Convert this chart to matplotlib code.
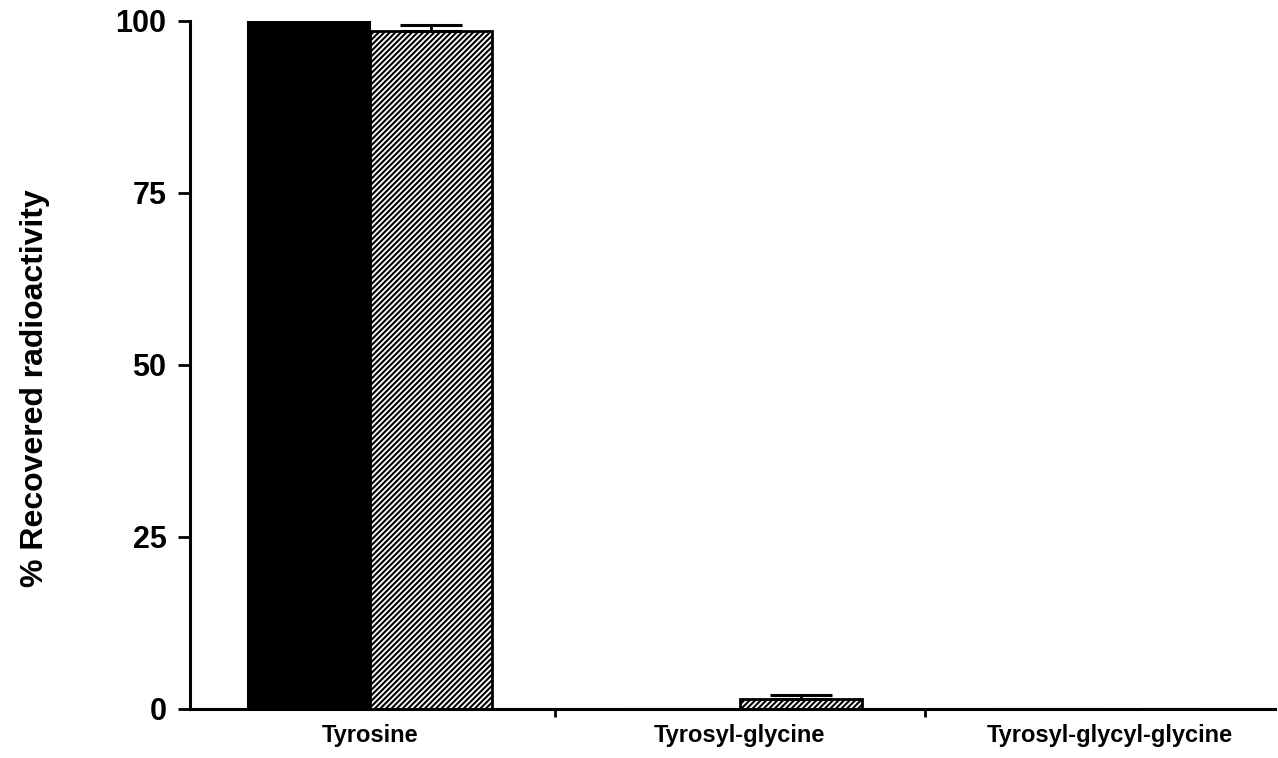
import matplotlib
matplotlib.use('Agg')
import matplotlib.pyplot as plt
import numpy as np

# data
categories = ['Tyrosine', 'Tyrosyl-glycine', 'Tyrosyl-glycyl-glycine']
solid_vals = [100.0, 0.0, 0.0]
hatched_vals = [98.5, 1.4, 0.0]
hatched_err = [0.9, 0.7, 0.0]
y_ticks = [0, 25, 50, 75, 100]

plt.rcParams['font.family'] = ['Liberation Sans', 'DejaVu Sans']
plt.rcParams['font.weight'] = 'bold'
plt.rcParams['hatch.linewidth'] = 1.5

fig = plt.figure(figsize=(12.78, 7.58), dpi=100)
ax = fig.add_axes([190 / 1278, 1 - 709 / 758, 1085 / 1278, 688 / 758])

x = np.arange(len(categories))
w = 0.33

ax.bar(x - w / 2, solid_vals, w, color='black', edgecolor='black', linewidth=1.5, zorder=2)
ax.bar(x + w / 2, hatched_vals, w, color='white', edgecolor='black', hatch='//////',
       linewidth=2, zorder=2)
ax.errorbar(x + w / 2, hatched_vals, yerr=[np.zeros(len(x)), hatched_err], fmt='none',
            ecolor='black', elinewidth=2, capsize=22, capthick=2.2, zorder=3)

ax.set_xlim(-0.486, 2.446)
ax.set_ylim(0, 100)
ax.set_yticks(y_ticks)
ax.set_yticklabels([str(v) for v in y_ticks], fontsize=22, fontweight='bold')
ax.set_xticks(x)
ax.set_xticklabels(categories, fontsize=17, fontweight='bold')
ax.set_xticks([0.5, 1.5], minor=True)

ax.tick_params(axis='y', length=9, width=2, pad=8)
ax.tick_params(axis='x', which='major', length=0, pad=11)
ax.tick_params(axis='x', which='minor', length=6, width=2, direction='out')

for s in ['top', 'right']:
    ax.spines[s].set_visible(False)
for s in ['left', 'bottom']:
    ax.spines[s].set_linewidth(2.2)

fig.text(35 / 1278, 1 - 388 / 758, '% Recovered radioactivity', rotation=90,
         fontsize=23, fontweight='bold', ha='center', va='center')

fig.savefig('out.png', dpi=100)
